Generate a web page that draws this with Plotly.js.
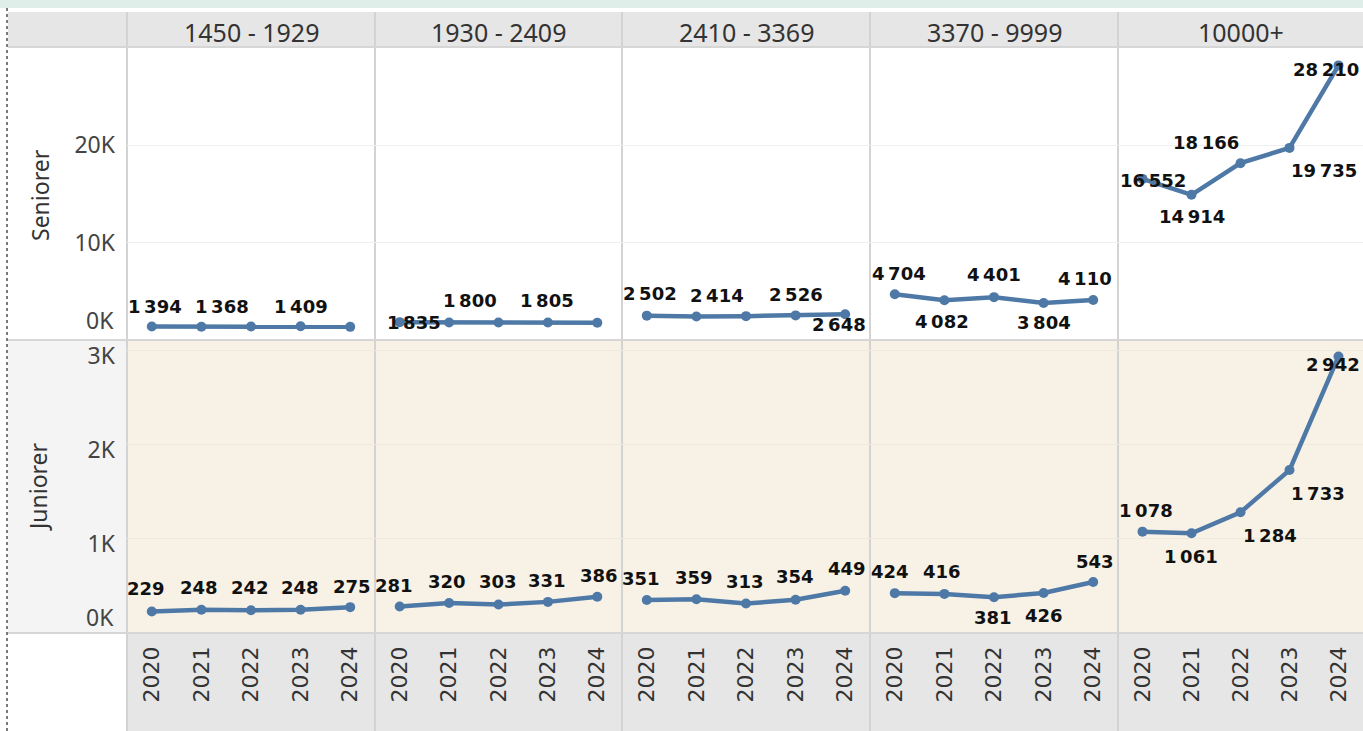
<!DOCTYPE html>
<html>
<head>
<meta charset="utf-8">
<script src="https://cdn.plot.ly/plotly-3.0.1.min.js"></script>
<style>html,body{margin:0;padding:0;background:#fff;}#chart{width:1363px;height:731px;}</style>
</head>
<body>
<div id="chart"></div>
<script>
// ---- Data ----
const years = ['2020', '2021', '2022', '2023', '2024'];
const groups = ['1450 - 1929', '1930 - 2409', '2410 - 3369', '3370 - 9999', '10000+'];
const rowNames = ['Seniorer', 'Juniorer'];

const seniorer1450 = [1394, 1368, 1380, 1409, 1350];
const seniorer1930 = [1835, 1800, 1790, 1805, 1780];
const seniorer2410 = [2502, 2414, 2450, 2526, 2648];
const seniorer3370 = [4704, 4082, 4401, 3804, 4110];
const seniorer10000 = [16552, 14914, 18166, 19735, 28210];

const juniorer1450 = [229, 248, 242, 248, 275];
const juniorer1930 = [281, 320, 303, 331, 386];
const juniorer2410 = [351, 359, 313, 354, 449];
const juniorer3370 = [424, 416, 381, 426, 543];
const juniorer10000 = [1078, 1061, 1284, 1733, 2942];

const seniorTicks = [10000, 20000];
const seniorTickText = ['10K', '20K'];
const juniorTicks = [1000, 2000, 3000];
const juniorTickText = ['1K', '2K', '3K'];

const seniorer = [seniorer1450, seniorer1930, seniorer2410, seniorer3370, seniorer10000];
const juniorer = [juniorer1450, juniorer1930, juniorer2410, juniorer3370, juniorer10000];

// ---- Label placement (pixel offsets [dx, dy] from the point; null = label hidden) ----
const seniorLabelOffsets = [
  [[3, -20], [21, -20], null, [0, -20], null],
  [[14, 0], [21, -22], null, [-1, -22], null],
  [[3, -22], [21, -21], null, [0, -21], [-6, 10]],
  [[4, -21], [-2, 21], [0, -23], [0, 20], [-8, -21]],
  [[10, 2], [0, 22], [-35, -21], [34, 23], [-13, 4]]
];
const juniorLabelOffsets = [
  [[-6, -23], [-2, -22], [-1, -23], [-1, -22], [2, -21]],
  [[-6, -21], [-2, -21], [-1, -23], [-1, -21], [2, -21]],
  [[-6, -22], [-2, -22], [-1, -22], [-1, -23], [2, -22]],
  [[-5, -22], [-2, -22], [-1, 20], [0, 23], [2, -20]],
  [[3, -21], [-1, 23], [29, 23], [28, 23], [-6, 8]]
];

// ---- Layout helpers ----
const W = 1363, H = 731;
const px = x => x / W;
const py = y => 1 - y / H;
const colEdges = [127, 375, 622, 870, 1118, 1363];
const LINE = '#4e79a7';
const HFONT = '"Noto Sans", "Open Sans", sans-serif';
const TFONT = '"DejaVu Sans", sans-serif';

function fmt(v) {
  return String(v).replace(/\B(?=(\d{3})+(?!\d))/g, '\u202f');
}

const traces = [];
const labelAnns = [];
[seniorer, juniorer].forEach((rowData, r) => {
  const offs = r === 0 ? seniorLabelOffsets : juniorLabelOffsets;
  rowData.forEach((vals, c) => {
    const xa = c === 0 ? 'x' : 'x' + (c + 1);
    const ya = r === 0 ? 'y' : 'y2';
    traces.push({
      type: 'scatter',
      mode: 'lines+markers',
      name: rowNames[r] + ' ' + groups[c],
      x: years,
      y: vals,
      xaxis: xa,
      yaxis: ya,
      line: {color: LINE, width: 4.5},
      marker: {color: LINE, size: 10},
      cliponaxis: false,
      hoverinfo: 'x+y',
      showlegend: false
    });
    vals.forEach((v, i) => {
      const o = offs[c][i];
      if (!o) return;
      labelAnns.push({
        xref: xa, yref: ya,
        x: i,   // category index on the category axis
        y: v,
        text: fmt(v), showarrow: false,
        xanchor: 'center', yanchor: 'middle',
        xshift: o[0], yshift: -o[1],
        font: {family: TFONT, size: 18, color: '#111', weight: 'bold'}
      });
    });
  });
});

const layout = {
  width: W, height: H,
  margin: {l: 0, r: 0, t: 0, b: 0},
  paper_bgcolor: '#ffffff',
  plot_bgcolor: 'rgba(0,0,0,0)',
  font: {family: HFONT, color: '#333'},
  showlegend: false,
  shapes: [],
  annotations: []
};

for (let c = 0; c < 5; c++) {
  const key = c === 0 ? 'xaxis' : 'xaxis' + (c + 1);
  layout[key] = {
    domain: [px(colEdges[c]), px(colEdges[c + 1])],
    anchor: 'y2',
    type: 'category',
    range: [-0.5, 4.5],
    showgrid: false, zeroline: false, showline: false,
    ticks: '',
    tickangle: -90,
    tickfont: {family: TFONT, size: 22, color: '#333'},
    ticklabelstandoff: 8,
    fixedrange: true
  };
}
layout.yaxis = {
  domain: [py(340), py(47)],
  anchor: 'x',
  range: [0, 30100],
  tickvals: seniorTicks, ticktext: seniorTickText,
  showgrid: true, gridcolor: '#efefef', gridwidth: 1,
  zeroline: false, showline: false, ticks: '',
  tickfont: {family: HFONT, size: 23, color: '#444'},
  ticklabelstandoff: 11,
  fixedrange: true
};
layout.yaxis2 = {
  domain: [py(633), py(341)],
  anchor: 'x',
  range: [0, 3106],
  tickvals: juniorTicks, ticktext: juniorTickText,
  showgrid: true, gridcolor: '#efe9dc', gridwidth: 1,
  zeroline: false, showline: false, ticks: '',
  tickfont: {family: HFONT, size: 23, color: '#444'},
  ticklabelstandoff: 11,
  ticklabelshift: 5,
  fixedrange: true
};

function rect(x0, y0, x1, y1, color) {
  layout.shapes.push({type: 'rect', xref: 'paper', yref: 'paper', layer: 'below',
    x0: px(x0), x1: px(x1), y0: py(y1), y1: py(y0), fillcolor: color, line: {width: 0}});
}
function line(x0, y0, x1, y1, color, width, dash) {
  layout.shapes.push({type: 'line', xref: 'paper', yref: 'paper', layer: 'below',
    x0: px(x0), x1: px(x1), y0: py(y0), y1: py(y1), line: {color: color, width: width, dash: dash || 'solid'}});
}

rect(0, 0, W, 8, '#dfeee9');
rect(8, 12, W, 47, '#e6e6e6');
rect(8, 341, 127, 633, '#f4f4f4');
rect(127, 341, W, 633, '#f8f2e6');
rect(127, 634, W, H, '#e6e6e6');
[127, 375, 622, 870, 1118].forEach(x => line(x, 12, x, H, '#d3d3d3', 2));
[47, 340, 633].forEach(y => line(8, y, W, y, '#d6d6d6', 2));
line(7, 8, 7, H, '#222', 1.2, 'dot');

// column headers
groups.forEach((g, c) => {
  layout.annotations.push({
    xref: 'paper', yref: 'paper', x: px((colEdges[c] + colEdges[c + 1]) / 2), y: py(32),
    text: g, showarrow: false, xanchor: 'center', yanchor: 'middle',
    font: {family: HFONT, size: 25, color: '#333'}
  });
});
// row headers
[[195, 40], [487, 38]].forEach((p, r) => {
  layout.annotations.push({
    xref: 'paper', yref: 'paper', x: px(p[1]), y: py(p[0]),
    text: rowNames[r], showarrow: false, textangle: -90, xanchor: 'center', yanchor: 'middle',
    font: {family: HFONT, size: 23, color: '#333'}
  });
});
// zero tick labels (pulled inside like the reference)
[320, 617].forEach(y => {
  layout.annotations.push({
    xref: 'paper', yref: 'paper', x: px(116), y: py(y),
    text: '0K', showarrow: false, xanchor: 'right', yanchor: 'middle',
    font: {family: HFONT, size: 23, color: '#444'}
  });
});
layout.annotations = layout.annotations.concat(labelAnns);

Plotly.newPlot('chart', traces, layout, {displayModeBar: false, staticPlot: true});
</script>
</body>
</html>
